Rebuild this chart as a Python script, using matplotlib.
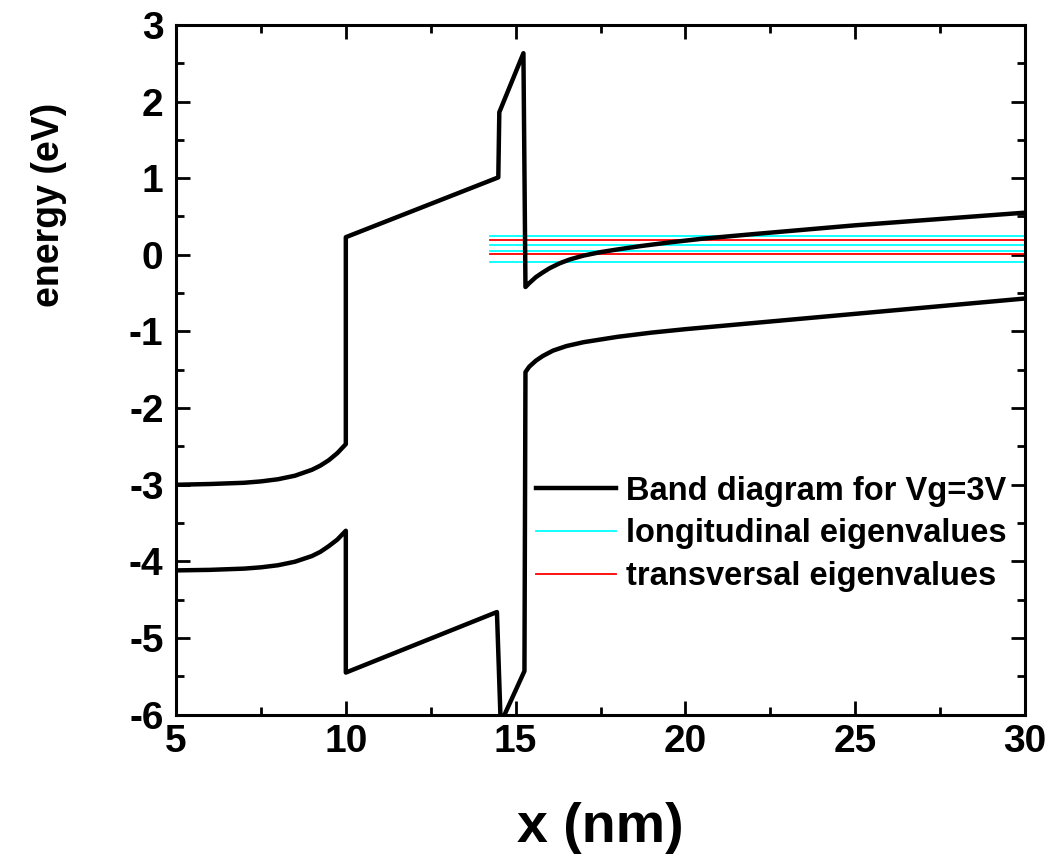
import matplotlib
matplotlib.use("Agg")
import matplotlib.pyplot as plt
from matplotlib.ticker import MultipleLocator

# conduction band (upper curve)
cb_x = [5.0, 6.0, 7.0, 7.5, 8.0, 8.5, 9.0, 9.25, 9.5, 9.75, 10.0, 10.0, 14.49, 14.52, 15.23, 15.29,
        15.4, 15.6, 15.8, 16.0, 16.3, 16.6, 17.0, 17.5, 18.0, 18.7, 19.5, 20.5, 22.0, 25.0, 30.0]
cb_y = [-3.0, -2.99, -2.974, -2.956, -2.928, -2.882, -2.805, -2.75, -2.679, -2.587, -2.47, 0.23,
        1.01, 1.86, 2.63, -0.42,
        -0.37, -0.29, -0.23, -0.175, -0.11, -0.06, -0.01, 0.035, 0.07, 0.115, 0.16, 0.21, 0.27,
        0.385, 0.55]

# valence band (lower curve)
vb_x = [5.0, 6.0, 7.0, 7.5, 8.0, 8.5, 9.0, 9.25, 9.5, 9.75, 10.0, 10.0, 14.45, 14.56, 15.26, 15.29,
        15.4, 15.6, 15.8, 16.1, 16.5, 17.0, 18.0, 19.0, 20.0, 25.0, 30.0]
vb_y = [-4.117, -4.11, -4.094, -4.077, -4.05, -4.004, -3.93, -3.875, -3.80, -3.715, -3.60, -5.45,
        -4.66, -6.11, -5.43, -1.53,
        -1.46, -1.38, -1.32, -1.25, -1.19, -1.14, -1.07, -1.015, -0.97, -0.77, -0.57]

# eigenvalues (eV), drawn from x_start to the right edge
eig_x = [14.26, 30.0]
longitudinal = [0.25, 0.13, 0.056, -0.09]
transversal = [0.187, 0.017]

FONT = "Liberation Sans"
plt.rcParams["font.family"] = [FONT, "DejaVu Sans"]
plt.rcParams["font.weight"] = "bold"
plt.rcParams["axes.unicode_minus"] = False

fig = plt.figure(figsize=(10.54, 8.57), dpi=100)
ax = fig.add_axes([0.167, 0.166, 0.8055, 0.805])

ax.plot(cb_x, cb_y, color="black", lw=3.2, label="Band diagram for Vg=3V", zorder=3)
ax.plot(vb_x, vb_y, color="black", lw=3.2, zorder=3)
for i, e in enumerate(longitudinal):
    ax.plot(eig_x, [e, e], color="#00ffff", lw=1.3, zorder=2,
            label="longitudinal eigenvalues" if i == 0 else None)
for i, e in enumerate(transversal):
    ax.plot(eig_x, [e, e], color="#ff0000", lw=1.3, zorder=2,
            label="transversal eigenvalues" if i == 0 else None)

ax.set_xlim(5, 30)
ax.set_ylim(-6, 3)
ax.xaxis.set_major_locator(MultipleLocator(5))
ax.xaxis.set_minor_locator(MultipleLocator(2.5))
ax.yaxis.set_major_locator(MultipleLocator(1))
ax.yaxis.set_minor_locator(MultipleLocator(0.5))
ax.tick_params(which="both", direction="in", top=True, right=True, width=2)
ax.tick_params(which="major", length=10, labelsize=28)
ax.tick_params(which="minor", length=5.5)
ax.tick_params(axis="x", which="major", pad=7)
ax.tick_params(axis="y", which="major", pad=9)
for s in ax.spines.values():
    s.set_linewidth(2.2)

ax.set_xlabel("x (nm)", fontsize=40, fontweight="bold")
ax.xaxis.set_label_coords(0.5, -0.126)
ax.set_ylabel("energy (eV)", fontsize=27, fontweight="bold")
ax.yaxis.set_label_coords(-0.128, 0.739)

ax.legend(loc="center left", bbox_to_anchor=(0.4245, 0.262), frameon=False,
          fontsize=23.5, borderpad=0, borderaxespad=0, handlelength=2.45,
          handletextpad=0.3, labelspacing=0.36)

fig.savefig("out.png", dpi=100)
